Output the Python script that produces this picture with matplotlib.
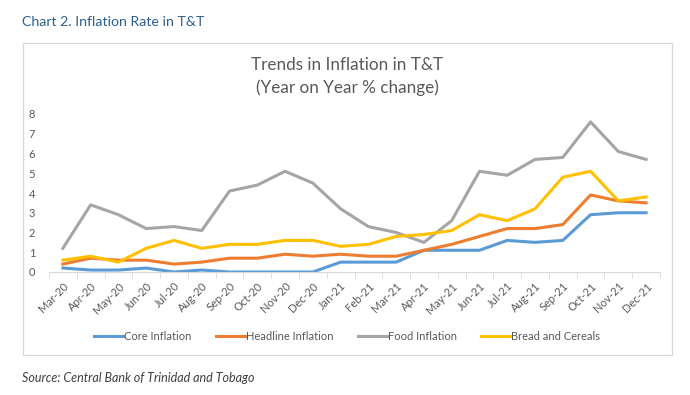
import matplotlib.pyplot as plt
from matplotlib.patches import Rectangle
import numpy as np

plt.rcParams['font.family'] = ['Lato', 'DejaVu Sans']

months = ['Mar-20', 'Apr-20', 'May-20', 'Jun-20', 'Jul-20', 'Aug-20', 'Sep-20', 'Oct-20',
          'Nov-20', 'Dec-20', 'Jan-21', 'Feb-21', 'Mar-21', 'Apr-21', 'May-21', 'Jun-21',
          'Jul-21', 'Aug-21', 'Sep-21', 'Oct-21', 'Nov-21', 'Dec-21']
core = [0.2, 0.1, 0.1, 0.2, 0.0, 0.1, 0.0, 0.0, 0.0, 0.0, 0.5, 0.5, 0.5, 1.1, 1.1, 1.1,
        1.6, 1.5, 1.6, 2.9, 3.0, 3.0]
headline = [0.4, 0.7, 0.6, 0.6, 0.4, 0.5, 0.7, 0.7, 0.9, 0.8, 0.9, 0.8, 0.8, 1.1, 1.4, 1.8,
            2.2, 2.2, 2.4, 3.9, 3.6, 3.5]
food = [1.2, 3.4, 2.9, 2.2, 2.3, 2.1, 4.1, 4.4, 5.1, 4.5, 3.2, 2.3, 2.0, 1.5, 2.6, 5.1,
        4.9, 5.7, 5.8, 7.6, 6.1, 5.7]
bread = [0.6, 0.8, 0.5, 1.2, 1.6, 1.2, 1.4, 1.4, 1.6, 1.6, 1.3, 1.4, 1.8, 1.9, 2.1, 2.9,
         2.6, 3.2, 4.8, 5.1, 3.6, 3.8]

W, H = 690, 395
fig = plt.figure(figsize=(6.9, 3.95), dpi=100)

# chart frame
fig.patches.append(Rectangle((23 / W, 1 - 355 / H), (672 - 23) / W, (355 - 43) / H,
                             transform=fig.transFigure, fill=False, edgecolor='#d9d9d9', lw=1))

fig.text(22 / W, 1 - 22 / H, 'Chart 2. Inflation Rate in T&T', color='#2f5f8f',
         fontsize=10.2, va='center', ha='left')
fig.text(22 / W, 1 - 378 / H, 'Source: Central Bank of Trinidad and Tobago', color='#404040',
         fontsize=9, style='italic', va='center', ha='left')
fig.text(347 / W, 1 - 65 / H, 'Trends in Inflation in T&T', color='#595959', fontsize=12.3,
         ha='center', va='center')
fig.text(347 / W, 1 - 88 / H, '(Year on Year % change)', color='#595959', fontsize=12.3,
         ha='center', va='center')

ax = fig.add_axes([49 / W, 1 - 272 / H, (660 - 49) / W, (272 - 114) / H])
x = np.arange(len(months))
ax.plot(x, core, color='#5b9bd5', lw=2.2, label='Core Inflation')
ax.plot(x, headline, color='#ed7d31', lw=2.2, label='Headline Inflation')
ax.plot(x, food, color='#a5a5a5', lw=2.2, label='Food Inflation')
ax.plot(x, bread, color='#ffc000', lw=2.2, label='Bread and Cereals')

ax.set_xlim(-0.5, len(months) - 0.5)
ax.set_ylim(0, 8)
ax.set_yticks(range(0, 9))
ax.set_xticks(x)
ax.set_xticklabels(months, rotation=45, ha='right', rotation_mode='anchor')
ax.set_xticks(np.arange(-0.5, len(months), 1), minor=True)
ax.tick_params(axis='x', which='major', length=0, labelsize=8, colors='#595959', pad=6)
ax.tick_params(axis='x', which='minor', length=4, color='#d9d9d9')
ax.tick_params(axis='y', length=0, labelsize=8, colors='#595959', pad=10)
for s in ['top', 'right', 'left']:
    ax.spines[s].set_visible(False)
ax.spines['bottom'].set_color('#d9d9d9')

fig.legend(loc='center', bbox_to_anchor=(347 / W, 1 - 336 / H), ncol=4, frameon=False,
           fontsize=8, handlelength=2.6, handletextpad=0.1, columnspacing=2.2,
           labelcolor='#595959')

fig.savefig('out.png', dpi=100)
